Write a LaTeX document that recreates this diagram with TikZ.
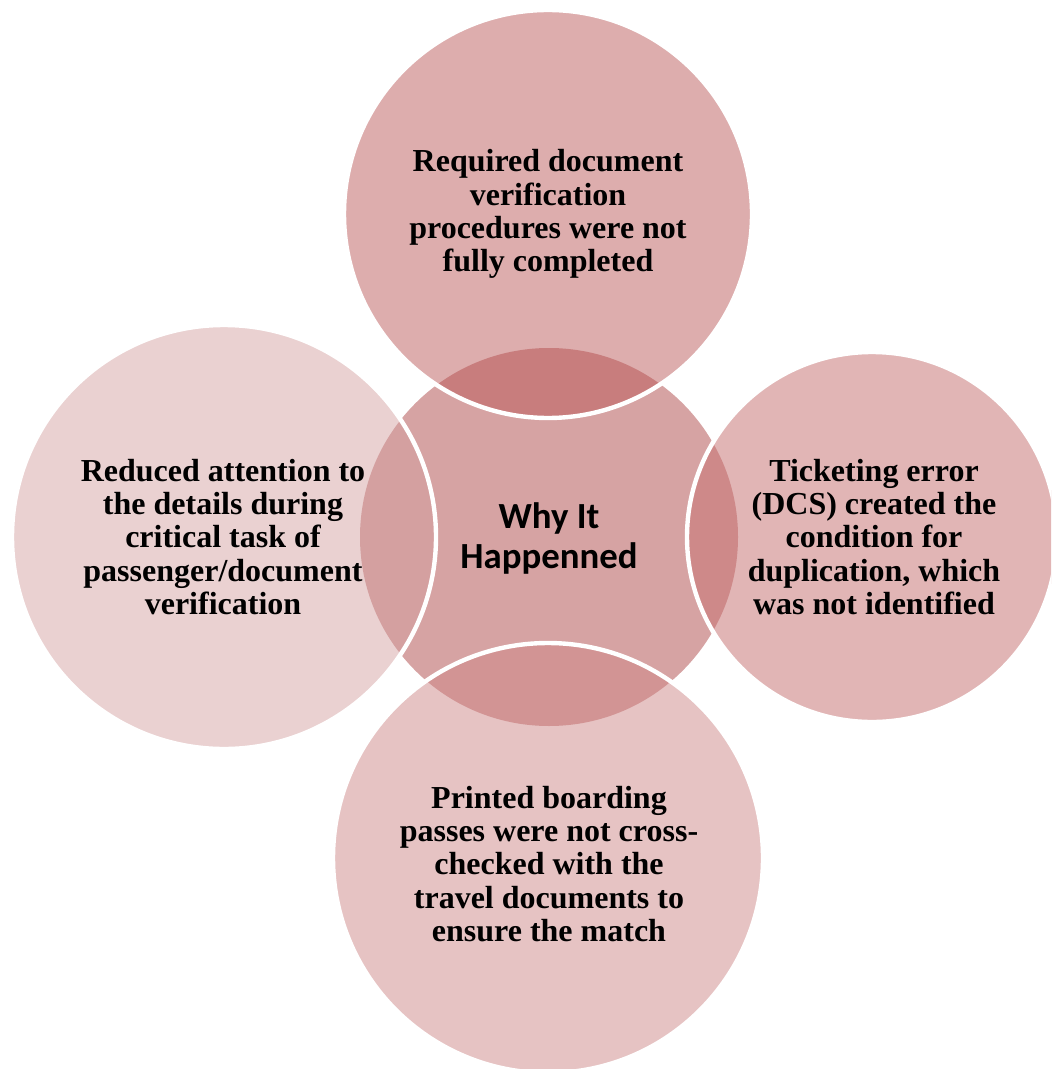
\documentclass[tikz,border=0pt]{standalone}
\usepackage{fontspec}
\setmainfont{Liberation Serif}
\newfontfamily\hubfont{Carlito}
\usetikzlibrary{positioning}

\definecolor{hubfill}{HTML}{D6A3A3}
\definecolor{topfill}{HTML}{DDADAD}
\definecolor{toplens}{HTML}{C87D7D}
\definecolor{rightfill}{HTML}{E1B5B5}
\definecolor{rightlens}{HTML}{CE8989}
\definecolor{botfill}{HTML}{E6C3C3}
\definecolor{botlens}{HTML}{D29494}
\definecolor{leftfill}{HTML}{EAD1D1}
\definecolor{leftlens}{HTML}{D4A0A0}

\begin{document}
\begin{tikzpicture}[
  x=0.5pt,y=-0.5pt,
  font=\fontsize{16}{16.6}\selectfont\bfseries,
  ring/.style={draw=white,line width=2.2pt},
  lab/.style={align=center,text=black,inner sep=0pt},
  hublab/.style={align=center,text=black,inner sep=0pt,
                 font=\hubfont\fontsize{18.4}{20}\selectfont\bfseries},
]
  \useasboundingbox (0,0) rectangle (1051,1069);
  \clip (0,0) rectangle (1051,1069);

  \coordinate (hubc) at (549,537);
  \coordinate (topc) at (548,214);
  \coordinate (rightc) at (872,537);
  \coordinate (botc) at (548,858);
  \coordinate (leftc) at (224,537);

  % hub disc
  \fill[hubfill] (hubc) circle[radius=189];

  % top disc, the part over the hub, then its white rim
  \fill[topfill] (topc) circle[radius=204];
  \begin{scope}
    \clip (hubc) circle[radius=189];
    \fill[toplens] (topc) circle[radius=204];
  \end{scope}
  \draw[ring] (topc) circle[radius=204];

  % right disc
  \fill[rightfill] (rightc) circle[radius=185];
  \begin{scope}
    \clip (hubc) circle[radius=189];
    \fill[rightlens] (rightc) circle[radius=185];
  \end{scope}
  \draw[ring] (rightc) circle[radius=185];

  % bottom disc
  \fill[botfill] (botc) circle[radius=215];
  \begin{scope}
    \clip (hubc) circle[radius=189];
    \fill[botlens] (botc) circle[radius=215];
  \end{scope}
  \draw[ring] (botc) circle[radius=215];

  % left disc
  \fill[leftfill] (leftc) circle[radius=212];
  \begin{scope}
    \clip (hubc) circle[radius=189];
    \fill[leftlens] (leftc) circle[radius=212];
  \end{scope}
  \draw[ring] (leftc) circle[radius=212];

  % labels
  \node[hublab] (why) at (549,538) {Why It\\Happenned};
  \node[lab] (verify) at (548,214) {Required document\\verification\\procedures were not\\fully completed};
  \node[lab] (ticket) at (874,537) {Ticketing error\\(DCS) created the\\condition for\\duplication, which\\was not identified};
  \node[lab] (printed) at (549,864) {Printed boarding\\passes were not cross-\\checked with the\\travel documents to\\ensure the match};
  \node[lab] (attention) at (223,537) {Reduced attention to\\the details during\\critical task of\\passenger/document\\verification};
\end{tikzpicture}
\end{document}
